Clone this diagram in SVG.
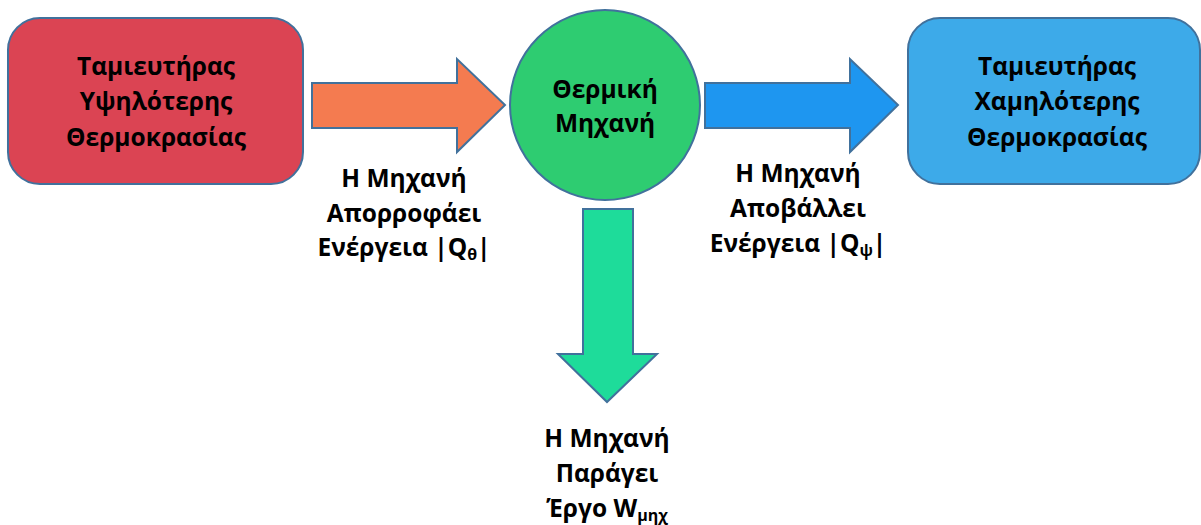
<svg xmlns="http://www.w3.org/2000/svg" width="1201" height="525" viewBox="0 0 1201 525">
<style>
.shape{stroke:#41719C;stroke-width:2}
.t{font-family:"Open Sans","Liberation Sans",sans-serif;font-weight:bold;font-size:24.5px;fill:#000;text-anchor:middle}
.sub{font-size:16px}
</style>
<rect width="1201" height="525" fill="#fff"/>
<g id="hot">
<rect class="shape" x="8" y="18" width="295" height="166" rx="32" fill="#DB4453"/>
<text class="t" x="156" y="75">Ταμιευτήρας</text>
<text class="t" x="156" y="110">Υψηλότερης</text>
<text class="t" x="156" y="146">Θερμοκρασίας</text>
</g>
<g id="engine">
<circle class="shape" cx="605" cy="105" r="95" fill="#2ECC71"/>
<text class="t" x="605" y="98">Θερμική</text>
<text class="t" x="605" y="132">Μηχανή</text>
</g>
<g id="cold">
<rect class="shape" x="908" y="18" width="292" height="166" rx="32" fill="#3DAAE9"/>
<text class="t" x="1057" y="75">Ταμιευτήρας</text>
<text class="t" x="1057" y="110">Χαμηλότερης</text>
<text class="t" x="1057" y="146">Θερμοκρασίας</text>
</g>
<g id="connectors">
<polygon class="shape" fill="#F47B50" points="312,83 457,83 457,59 505,105 457,152 457,128 312,128"/>
<polygon class="shape" fill="#1E96F0" points="705,83 850,83 850,59 898,105 850,152 850,128 705,128"/>
<polygon class="shape" fill="#1EDC9A" points="583,209 633,209 633,354 657,354 607,402 558,354 583,354"/>
</g>
<g id="label-absorb">
<text class="t" x="404" y="187">Η Μηχανή</text>
<text class="t" x="404" y="222">Απορροφάει</text>
<text class="t" x="404" y="256">Ενέργεια |Q<tspan class="sub" dy="4">θ</tspan><tspan dy="-4">|</tspan></text>
</g>
<g id="label-reject">
<text class="t" x="798" y="182">Η Μηχανή</text>
<text class="t" x="798" y="217">Αποβάλλει</text>
<text class="t" x="798" y="252">Ενέργεια |Q<tspan class="sub" dy="4">ψ</tspan><tspan dy="-4">|</tspan></text>
</g>
<g id="label-work">
<text class="t" x="607" y="447">Η Μηχανή</text>
<text class="t" x="607" y="482">Παράγει</text>
<text class="t" x="607" y="517">Έργο W<tspan class="sub" dy="4">μηχ</tspan></text>
</g>
</svg>
